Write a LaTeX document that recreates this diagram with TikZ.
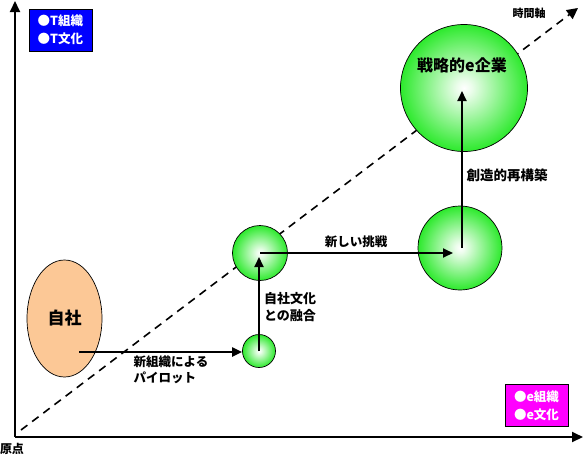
\documentclass[tikz,border=0pt]{standalone}
\usepackage{fontspec}
\setmainfont{Noto Sans CJK JP}
\usetikzlibrary{arrows.meta,positioning,shapes.geometric}
\definecolor{egreen}{RGB}{10,230,10}
\definecolor{jpeach}{RGB}{252,200,150}
\definecolor{tblue}{RGB}{0,0,255}
\definecolor{emag}{RGB}{255,0,255}
\pgfdeclareradialshading{eball}{\pgfpoint{0bp}{0bp}}{color(0bp)=(white); color(3bp)=(white!92!egreen); color(29bp)=(egreen); color(50bp)=(egreen)}
\tikzset{
  ball/.style={circle, draw=black, line width=0.7pt, shading=eball, inner sep=0pt},
  self/.style={ellipse, draw=black, line width=0.7pt, fill=jpeach, inner sep=0pt, font=\bfseries\fontsize{17}{20}\selectfont},
  legend/.style={draw=black, line width=0.8pt, text=white, align=left, inner sep=3pt, minimum width=63pt, minimum height=42pt, font=\bfseries\fontsize{12.5}{18}\selectfont},
  lbl/.style={align=left, inner sep=0pt, font=\bfseries\fontsize{12.5}{16}\selectfont},
  arr/.style={-{Triangle[length=10pt,width=9pt]}, line width=2pt, black},
  axis/.style={-{Triangle[length=11pt,width=10pt]}, line width=2pt, black},
  tline/.style={-{Triangle[length=11pt,width=11pt]}, line width=1.6pt, dash pattern=on 8pt off 6pt, black},
}
\begin{document}
\begin{tikzpicture}[x=1pt, y=-1pt]
  \useasboundingbox (0,0) rectangle (584,456);
  % axes
  \coordinate (orig) at (15,437);
  \coordinate (ytop) at (15,1);
  \coordinate (xend) at (583,437);
  \coordinate (tstart) at (21,430);
  \coordinate (tend) at (578,8);
  \draw[tline] (tstart) -- (tend);
  \draw[axis] (orig) -- (ytop);
  \draw[axis] (orig) -- (xend);
  \node[lbl, font=\bfseries\fontsize{12}{14}\selectfont] (origin) at (12,449) {原点};
  \node[lbl, font=\bfseries\fontsize{11}{13}\selectfont] (timeax) at (529,13) {時間軸};
  % legend boxes
  \node[legend, fill=tblue] (tbox) at (60.5,30) {●T組織\\●T文化};
  \node[legend, fill=emag] (ebox) at (536.5,405.5) {●e組織\\●e文化};
  % stages
  \node[self, minimum width=75pt, minimum height=117pt] (jisha) at (64.5,318.5) {自社};
  \node[ball, minimum size=33pt] (pilot) at (259,351) {};
  \node[ball, minimum size=55pt] (fusion) at (260,253) {};
  \node[ball, minimum size=84pt] (chall) at (460,248) {};
  \node[ball, minimum size=127pt] (goal) at (464,88) {};
  \node[lbl, font=\bfseries\fontsize{16}{18}\selectfont] (goaltxt) at (462,65) {戦略的e企業};
  % steps
  \coordinate (jstart) at (79,352);
  \draw[arr] (jstart) -- (jstart -| pilot.west);
  \draw[arr, shorten >=4pt] (pilot.center) -- (pilot.center |- fusion.center);
  \draw[arr, shorten >=7pt] (fusion.center) -- (fusion.center -| chall.center);
  \draw[arr, shorten >=3pt] ([xshift=2pt]chall.center) -- ([xshift=2pt]chall.center |- goal.center);
  \node[lbl] (pilottxt) at (171,370) {新組織による\\パイロット};
  \node[lbl, font=\bfseries\fontsize{13}{17}\selectfont] (fusiontxt) at (290,307) {自社文化\\との融合};
  \node[lbl] (challtxt) at (356,242) {新しい挑戦};
  \node[lbl, font=\bfseries\fontsize{13.5}{16}\selectfont] (rebuildtxt) at (507,175) {創造的再構築};
\end{tikzpicture}
\end{document}
